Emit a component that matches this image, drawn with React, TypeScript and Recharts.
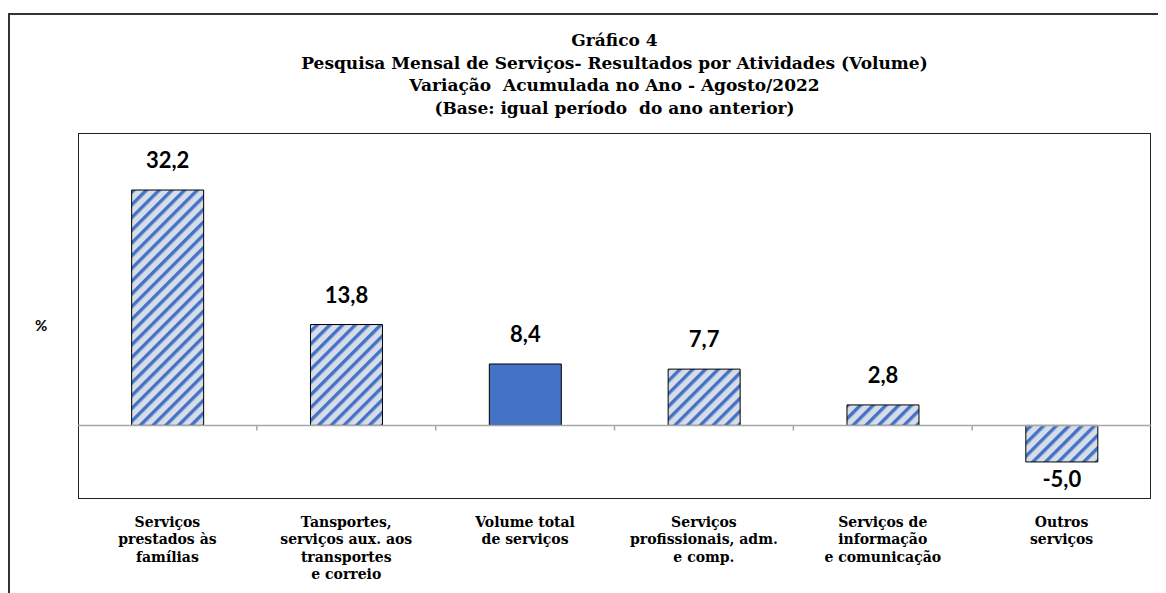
import React from 'react';
import { BarChart, Bar, XAxis, YAxis, Cell, LabelList, ReferenceLine } from 'recharts';

const categories: string[][] = [
  ['Serviços', 'prestados às', 'famílias'],
  ['Tansportes,', 'serviços aux. aos', 'transportes', 'e correio'],
  ['Volume total', 'de serviços'],
  ['Serviços', 'profissionais, adm.', 'e comp.'],
  ['Serviços de', 'informação', 'e comunicação'],
  ['Outros', 'serviços'],
];
const values: number[] = [32.2, 13.8, 8.4, 7.7, 2.8, -5.0];
const solidFlags: boolean[] = [false, false, true, false, false, false];
const titleLines: string[] = [
  'Gráfico 4',
  'Pesquisa Mensal de Serviços- Resultados por Atividades (Volume)',
  'Variação  Acumulada no Ano - Agosto/2022',
  '(Base: igual período  do ano anterior)',
];
const yDomain: [number, number] = [-10, 40];

const data = values.map((v, i) => ({ name: String(i), value: v, solid: solidFlags[i] }));
const boundaryNames = data.slice(1).map((d) => d.name);

const BLUE = '#4472c4';
const serif = '"DejaVu Serif", "Liberation Serif", serif';
const sans = 'Lato, "Liberation Sans", Arial, sans-serif';

const CatTick = (props: any) => {
  const { x, y, payload } = props;
  const lines = categories[Number(payload.value)] || [];
  return (
    <g>
      {lines.map((l, i) => (
        <text key={i} x={x} y={y + 20 + i * 17.5} textAnchor="middle" fontFamily={serif} fontWeight="bold" fontSize={14} fill="#000">
          {l}
        </text>
      ))}
    </g>
  );
};

const ValueLabel = (props: any) => {
  const { x, y, width, height, value } = props;
  const top = Math.min(y, y + height);
  const bottom = Math.max(y, y + height);
  const cx = x + width / 2;
  const txt = Number(value).toFixed(1).replace('.', ',');
  const ty = value < 0 ? bottom + 25 : top - 22;
  return (
    <text x={cx} y={ty} textAnchor="middle" fontFamily={sans} fontWeight="bold" fontSize={22} fill="#000">
      {txt}
    </text>
  );
};

export default function App() {
  return (
    <div style={{ position: 'relative', width: 1158, height: 585, overflow: 'hidden', background: '#fff' }}>
      <svg width={0} height={0} style={{ position: 'absolute' }}>
        <defs>
          <pattern id="hatch" patternUnits="userSpaceOnUse" width={9} height={9} patternTransform="rotate(45)">
            <rect x={0} y={0} width={9} height={9} fill="#d6dde9" />
            <rect x={0} y={0} width={3.4} height={9} fill={BLUE} />
          </pattern>
        </defs>
      </svg>
      <div style={{ position: 'absolute', left: 0, top: 5, width: 1300, height: 800, border: '2px solid #333', boxSizing: 'border-box' }} />
      <div style={{ position: 'absolute', left: 70, top: 125, width: 1073, height: 366, border: '1.5px solid #222', boxSizing: 'border-box' }} />
      <div style={{ position: 'absolute', left: 70, width: 1073, top: 21, textAlign: 'center', fontFamily: serif, fontWeight: 'bold', fontSize: 17, lineHeight: '22.7px', color: '#000', whiteSpace: 'pre' }}>
        {titleLines.map((t, i) => (
          <div key={i}>{t}</div>
        ))}
      </div>
      <div style={{ position: 'absolute', left: 27, top: 308, fontFamily: sans, fontWeight: 'bold', fontSize: 15, color: '#000' }}>%</div>
      <div style={{ position: 'absolute', left: 0, top: 0 }}>
        <BarChart width={1158} height={585} data={data} margin={{ top: 125, right: 15, bottom: 4, left: 70 }} barCategoryGap="30%">
          <XAxis xAxisId="cat" dataKey="name" height={90.5} axisLine={false} tickLine={false} tick={<CatTick />} interval={0} />
          <YAxis domain={yDomain} hide allowDataOverflow />
          <Bar xAxisId="cat" dataKey="value" isAnimationActive={false} stroke="#000" strokeWidth={1}>
            {data.map((d, i) => (
              <Cell key={i} fill={d.solid ? BLUE : 'url(#hatch)'} />
            ))}
            <LabelList dataKey="value" content={<ValueLabel />} />
          </Bar>
          <ReferenceLine xAxisId="cat" y={0} stroke="#a6a6a6" strokeWidth={1.5} />
          {boundaryNames.map((b) => (
            <ReferenceLine key={b} xAxisId="cat" position="start" segment={[{ x: b, y: 0 }, { x: b, y: -0.7 }]} stroke="#a6a6a6" strokeWidth={1.5} />
          ))}
        </BarChart>
      </div>
    </div>
  );
}
